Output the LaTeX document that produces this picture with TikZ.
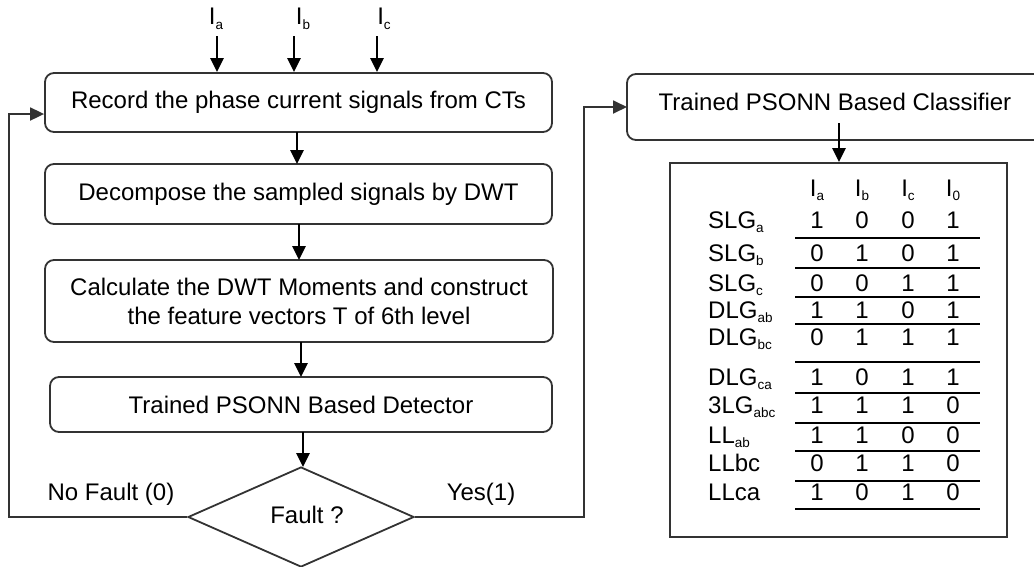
\documentclass[tikz,border=0pt]{standalone}
\usepackage{fontspec}
\setmainfont{Liberation Sans}
\usetikzlibrary{arrows.meta,shapes.geometric}
\newcommand\sbs[1]{\raisebox{-0.2em}{\fontsize{13.5}{14}\selectfont #1}}
\begin{document}
\begin{tikzpicture}[x=1pt,y=-1pt,
  font=\fontsize{24}{29}\selectfont,
  box/.style={draw=black!80, line width=1.8pt, rounded corners=9pt, inner sep=0pt, align=center},
  arr/.style={line width=2.8pt, -{Triangle[length=14pt,width=13pt]}},
  fb/.style={draw=black!80, line width=1.8pt, -{Triangle[length=14pt,width=13pt]}},
  rulel/.style={line width=1.8pt},
  cell/.style={anchor=base, inner sep=0pt},
  rowlab/.style={anchor=base west, inner sep=0pt}]
\useasboundingbox (0,0) rectangle (1034,566);
\clip (0,0) rectangle (1034,566);

% left column boxes
\node[box, minimum width=507pt, minimum height=59pt] (b1) at (298.5,102.5) {Record the phase current signals from CTs};
\node[box, minimum width=507pt, minimum height=60pt] (b2) at (298.5,194) {Decompose the sampled signals by DWT};
\node[box, minimum width=508pt, minimum height=82pt] (b3) at (299,301) {Calculate the DWT Moments and construct\\the feature vectors T of 6th level};
\node[box, minimum width=502pt, minimum height=55pt] (b4) at (301,404.5) {Trained PSONN Based Detector};
\node[draw=black!80, line width=1.8pt, diamond, aspect=2.26, inner sep=0pt,
      minimum width=226pt, minimum height=100pt] (fault) at (301,517) {};
\node[inner sep=0pt] (faulttxt) at (307,515) {Fault ?};

% inputs
\node[inner sep=0pt] (ia) at (216,19) {I\sbs{a}};
\node[inner sep=0pt] (ib) at (303,19) {I\sbs{b}};
\node[inner sep=0pt] (ic) at (384,19) {I\sbs{c}};
\coordinate (ta) at (217,36);
\coordinate (tb) at (294,36);
\coordinate (tc) at (377,36);
\draw[arr] (ta) -- (ta |- b1.north);
\draw[arr] (tb) -- (tb |- b1.north);
\draw[arr] (tc) -- (tc |- b1.north);

% main chain
\draw[arr] (297,132) -- (297,164);
\draw[arr] (299,224) -- (299,260);
\draw[arr] (301,342) -- (301,377);
\draw[arr] (303,432) -- (303,467);

% labels
\node[inner sep=0pt] (nofault) at (111,494) {No Fault (0)};
\node[inner sep=0pt] (yes) at (481,494) {Yes(1)};

% feedback lines
\coordinate (fl) at (9,517);
\coordinate (fl2) at (9,114);
\draw[fb] (fault.west) -- (fl) -- (fl2) -- (fl2 -| b1.west);
\coordinate (fr) at (584,517);
\draw[fb] (fault.east) -- (fr) |- (627,107);

% classifier
\node[box, minimum width=418pt, minimum height=66pt] (cls) at (836,107) {};
\node[inner sep=0pt] (clstxt) at (835,102) {Trained PSONN Based Classifier};
\node[draw=black!80, line width=1.8pt, minimum width=337pt, minimum height=374pt, inner sep=0pt] (tbl) at (838.5,350) {};
\coordinate (cs) at (839,123);
\draw[arr] (cs) -- (cs |- tbl.north);

% table header
\node[cell] (hIa) at (817,196) {I\sbs{a}};
\node[cell] (hIb) at (862,196) {I\sbs{b}};
\node[cell] (hIc) at (908,196) {I\sbs{c}};
\node[cell] (hI0) at (953,196) {I\sbs{0}};

% table rows
\foreach \yy/\lab/\va/\vb/\vc/\vd/\rr [count=\i] in {
  220/SLG\sbs{a}/1/0/0/1/238,
  253/SLG\sbs{b}/0/1/0/1/268,
  283/SLG\sbs{c}/0/0/1/1/297,
  310/DLG\sbs{ab}/1/1/0/1/324,
  337/DLG\sbs{bc}/0/1/1/1/362,
  377/DLG\sbs{ca}/1/0/1/1/393,
  405/3LG\sbs{abc}/1/1/1/0/423,
  435/LL\sbs{ab}/1/1/0/0/451,
  463/LLbc/0/1/1/0/481,
  492/LLca/1/0/1/0/509}{
  \node[rowlab] (r\i) at (708,\yy+8) {\lab};
  \node[cell] (r\i a) at (817,\yy+8) {\va};
  \node[cell] (r\i b) at (862,\yy+8) {\vb};
  \node[cell] (r\i c) at (908,\yy+8) {\vc};
  \node[cell] (r\i d) at (953,\yy+8) {\vd};
  \draw[rulel] (795,\rr) -- (980,\rr);
}
\end{tikzpicture}
\end{document}
